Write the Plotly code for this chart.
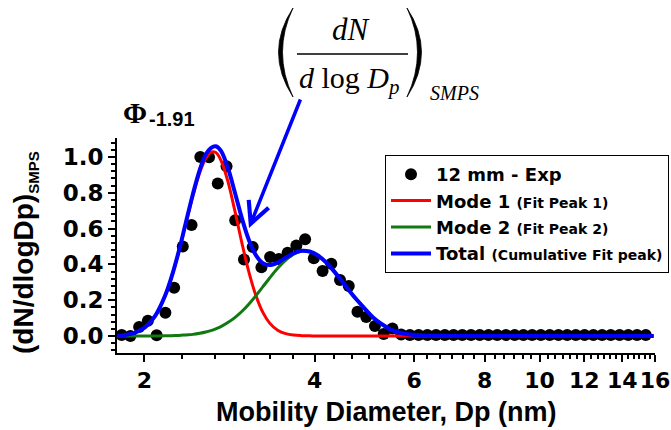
import plotly.graph_objects as go

# ---------------- data ----------------
exp_dp = [1.824, 1.890, 1.958, 2.029, 2.103, 2.179, 2.258, 2.339, 2.424, 2.512,
          2.603, 2.697, 2.795, 2.896, 3.001, 3.109, 3.222, 3.338, 3.459, 3.585,
          3.714, 3.849, 3.988, 4.133, 4.282, 4.437, 4.598, 4.764, 4.937, 5.115,
          5.301, 5.492, 5.691, 5.897, 6.111, 6.332, 6.561, 6.799, 7.045, 7.300,
          7.564, 7.838, 8.122, 8.416, 8.721, 9.036, 9.363, 9.702, 10.05, 10.42,
          10.80, 11.19, 11.59, 12.01, 12.45, 12.90, 13.36, 13.85, 14.35, 14.87,
          15.41]
exp_y = [0.005, 0.000, 0.050, 0.085, 0.004, 0.130, 0.270, 0.500, 0.620, 1.000,
         0.998, 0.852, 0.948, 0.646, 0.427, 0.497, 0.384, 0.441, 0.430, 0.465,
         0.506, 0.540, 0.434, 0.363, 0.404, 0.313, 0.279, 0.136, 0.106, 0.056,
         0.011, 0.042, 0.008, 0.005, 0.005, 0.005, 0.005, 0.005, 0.005, 0.005,
         0.005, 0.005, 0.005, 0.005, 0.005, 0.005, 0.005, 0.005, 0.005, 0.005,
         0.005, 0.005, 0.005, 0.005, 0.005, 0.005, 0.005, 0.005, 0.005, 0.005,
         0.005]

fit_dp = [1.790, 1.849, 1.926, 2.005, 2.089, 2.175, 2.238, 2.303, 2.369, 2.437,
          2.507, 2.569, 2.622, 2.676, 2.731, 2.810, 2.891, 2.974, 3.060, 3.148,
          3.239, 3.332, 3.442, 3.556, 3.673, 3.794, 3.920, 4.049, 4.183, 4.321,
          4.463, 4.611, 4.763, 4.920, 5.082, 5.250, 5.468, 5.741, 6.126, 6.644,
          7.504, 9.195, 11.73, 15.91]
mode1 = [0.002, 0.006, 0.019, 0.048, 0.111, 0.222, 0.335, 0.474, 0.629, 0.783,
         0.914, 0.993, 1.026, 1.025, 0.983, 0.865, 0.700, 0.523, 0.360, 0.229,
         0.133, 0.072, 0.032, 0.013, 0.005, 0.002, 0.001, 0.000, 0.000, 0.000,
         0.000, 0.000, 0.000, 0.000, 0.000, 0.000, 0.000, 0.000, 0.000, 0.000,
         0.000, 0.000, 0.000, 0.000]
mode2 = [0.000, 0.000, 0.000, 0.000, 0.000, 0.001, 0.002, 0.003, 0.006, 0.009,
         0.015, 0.022, 0.030, 0.040, 0.052, 0.075, 0.103, 0.137, 0.178, 0.224,
         0.274, 0.324, 0.378, 0.424, 0.457, 0.474, 0.471, 0.451, 0.414, 0.365,
         0.310, 0.252, 0.198, 0.149, 0.102, 0.068, 0.034, 0.014, 0.004, 0.001,
         0.000, 0.000, 0.000, 0.000]
total = [0.002, 0.006, 0.019, 0.048, 0.111, 0.223, 0.337, 0.477, 0.635, 0.792,
         0.929, 1.015, 1.050, 1.060, 1.035, 0.940, 0.803, 0.660, 0.538, 0.453,
         0.407, 0.396, 0.410, 0.437, 0.462, 0.476, 0.472, 0.451, 0.414, 0.365,
         0.310, 0.252, 0.198, 0.149, 0.102, 0.068, 0.034, 0.014, 0.004, 0.001,
         0.000, 0.000, 0.000, 0.000]

x_tick_vals = [2, 4, 6, 8, 10, 12, 14, 16]
x_tick_text = ["2", "4", "6", "8", "10", "12", "14", "16"]
y_tick_vals = [0.0, 0.2, 0.4, 0.6, 0.8, 1.0]
y_tick_text = ["0.0", "0.2", "0.4", "0.6", "0.8", "1.0"]

series_names = [
    "<b>12 mm - Exp</b>",
    "<b>Mode 1 </b><span style='font-size:14px'><b>(Fit Peak 1)</b></span>",
    "<b>Mode 2 </b><span style='font-size:14px'><b>(Fit Peak 2)</b></span>",
    "<b>Total </b><span style='font-size:14px'><b>(Cumulative Fit peak)</b></span>",
]

# ---------------- layout helpers ----------------
W, H = 671, 430
L, R, T, B = 117, 16, 138, 77
PW, PH = W - L - R, H - T - B


def px(x):
    return (x - L) / PW


def py(y):
    return (H - B - y) / PH


def paper_path(cmds):
    out = []
    for c in cmds:
        if isinstance(c, str):
            out.append(c)
        else:
            out.append("%.5f,%.5f" % (px(c[0]), py(c[1])))
    return " ".join(out)


SANS = "Liberation Sans, Arial, sans-serif"
WIDE = "DejaVu Sans, sans-serif"
SERIF = "Liberation Serif, Times New Roman, serif"

fig = go.Figure()
fig.add_trace(go.Scatter(x=exp_dp, y=exp_y, mode="markers", name=series_names[0],
                         marker=dict(color="black", size=12), cliponaxis=False))
fig.add_trace(go.Scatter(x=fit_dp, y=mode1, mode="lines", name=series_names[1],
                         line=dict(color="#ff0000", width=3, shape="spline")))
fig.add_trace(go.Scatter(x=fit_dp, y=mode2, mode="lines", name=series_names[2],
                         line=dict(color="#127812", width=3, shape="spline")))
fig.add_trace(go.Scatter(x=fit_dp, y=total, mode="lines", name=series_names[3],
                         line=dict(color="#0000ff", width=4, shape="spline")))

minor_x = [2 + i / 3 for i in range(0, 43)]

fig.update_layout(
    width=W, height=H,
    margin=dict(l=L, r=R, t=T, b=B, pad=0, autoexpand=False),
    paper_bgcolor="white", plot_bgcolor="white",
    showlegend=True,
    legend=dict(x=px(385), y=py(155), xanchor="left", yanchor="top",
                bordercolor="black", borderwidth=1, bgcolor="white",
                font=dict(family=WIDE, size=18, color="black"),
                tracegroupgap=0, itemwidth=40),
    xaxis=dict(type="log", range=[0.2527, 1.2041], automargin=False,
               tickmode="array", tickvals=x_tick_vals, ticktext=x_tick_text,
               tickangle=0,
               ticks="outside", ticklen=7, tickwidth=2, tickcolor="black",
               showline=True, linecolor="black", linewidth=2,
               showgrid=False, zeroline=False,
               tickfont=dict(family=WIDE, size=22, color="black", weight="bold"),
               minor=dict(tickmode="array", tickvals=minor_x, ticks="outside",
                          ticklen=4, tickwidth=1.5, tickcolor="black", showgrid=False)),
    yaxis=dict(range=[-0.095, 1.106], automargin=False,
               tickmode="array", tickvals=y_tick_vals, ticktext=y_tick_text,
               ticks="outside", ticklen=7, tickwidth=2, tickcolor="black",
               showline=True, linecolor="black", linewidth=2,
               showgrid=False, zeroline=False,
               tickfont=dict(family=WIDE, size=23, color="black", weight="bold"),
               minor=dict(dtick=0.04, tick0=0, ticks="outside", ticklen=4,
                          tickwidth=1.5, tickcolor="black", showgrid=False)),
)

ann = []
# axis titles
ann.append(dict(text="<b>Mobility Diameter, Dp (nm)</b>", xref="paper", yref="paper",
                x=px(386.5), y=py(412), xanchor="center", yanchor="middle", showarrow=False,
                font=dict(family=SANS, size=27, color="black")))
ann.append(dict(text="<b>(dN/dlogDp)<sub><span style='font-size:15px'>SMPS</span></sub></b>",
                xref="paper", yref="paper", x=px(25), y=py(253), textangle=-90,
                xanchor="center", yanchor="middle", showarrow=False,
                font=dict(family=SANS, size=28, color="black")))
# Phi label
ann.append(dict(text="<b>Φ</b>", xref="paper", yref="paper", x=px(121), y=py(113),
                xanchor="left", yanchor="middle", showarrow=False,
                font=dict(family=SERIF, size=29, color="black")))
ann.append(dict(text="<b>-1.91</b>", xref="paper", yref="paper", x=px(147), y=py(119),
                xanchor="left", yanchor="middle", showarrow=False,
                font=dict(family=SANS, size=20, color="black")))
# equation
ann.append(dict(text="<i>dN</i>", xref="paper", yref="paper", x=px(351), y=py(29),
                xanchor="center", yanchor="middle", showarrow=False,
                font=dict(family=SERIF, size=31, color="black")))
ann.append(dict(text="<i>d</i> log <i>D</i><sub><i>p</i></sub>", xref="paper", yref="paper",
                x=px(297), y=py(80), xanchor="left", yanchor="middle", showarrow=False,
                font=dict(family=SERIF, size=30, color="black")))
ann.append(dict(text="<i>SMPS</i>", xref="paper", yref="paper", x=px(428), y=py(93),
                xanchor="left", yanchor="middle", showarrow=False,
                font=dict(family=SERIF, size=20, color="black")))
# arrow
ann.append(dict(text="", xref="paper", yref="paper", x=px(249), y=py(228),
                ax=52, ay=-130, axref="pixel", ayref="pixel", showarrow=True,
                arrowhead=5, arrowsize=1.2, arrowwidth=3.5, arrowcolor="#0000ff"))
fig.update_layout(annotations=ann)

# fraction bar
fig.add_shape(type="line", xref="paper", yref="paper", x0=px(297), x1=px(408),
              y0=py(54), y1=py(54), line=dict(color="black", width=1.5))
# big parentheses (thin tapered crescents)
fig.add_shape(type="path", xref="paper", yref="paper",
              path=paper_path(["M", (293, 8), "Q", (264, 52), (293, 97),
                               "Q", (272, 52), (293, 8), "Z"]),
              fillcolor="black", line=dict(color="black", width=0.8))
fig.add_shape(type="path", xref="paper", yref="paper",
              path=paper_path(["M", (407, 8), "Q", (436, 52), (407, 97),
                               "Q", (428, 52), (407, 8), "Z"]),
              fillcolor="black", line=dict(color="black", width=0.8))

fig.write_html("out.html")
